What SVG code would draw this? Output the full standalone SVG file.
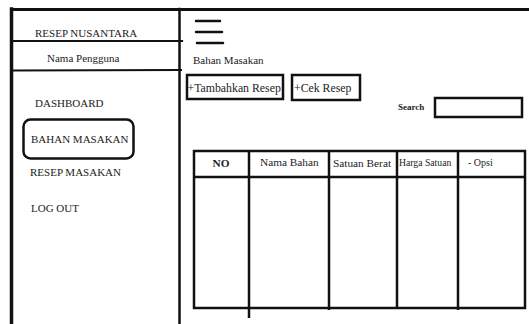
<svg xmlns="http://www.w3.org/2000/svg" width="529" height="324" viewBox="0 0 529 324">
  <style>
    .frame { stroke: #111; fill: none; stroke-linecap: square; }
    .box { stroke: #111; stroke-width: 2.5; fill: #fff; }
    .t { font-family: "Liberation Serif", "Times New Roman", serif; fill: #222; }
    .menu { font-size: 11px; }
    .hdr { font-size: 11.3px; }
  </style>
  <rect x="0" y="0" width="529" height="324" fill="#fff"/>

  <!-- outer frame and sidebar -->
  <g id="frame">
    <line class="frame" x1="11.5" y1="9.5" x2="529" y2="9.5" stroke-width="3"/>
    <line class="frame" x1="11.5" y1="9" x2="11.5" y2="324" stroke-width="3.5"/>
    <line class="frame" x1="179.5" y1="9" x2="179.5" y2="324" stroke-width="2.5"/>
    <line class="frame" x1="12" y1="41" x2="182" y2="41" stroke-width="2.2"/>
    <line class="frame" x1="12" y1="70.5" x2="181" y2="70" stroke-width="2"/>
  </g>

  <!-- sidebar content -->
  <g id="brand">
    <text class="t menu" x="35" y="37">RESEP NUSANTARA</text>
  </g>
  <g id="user">
    <text class="t menu" x="47" y="62">Nama Pengguna</text>
  </g>
  <g id="nav-dashboard">
    <text class="t menu" x="35" y="107">DASHBOARD</text>
  </g>
  <g id="nav-bahan">
    <rect x="23.5" y="119.5" width="110" height="39" rx="7" ry="7" fill="none" stroke="#111" stroke-width="2.5"/>
    <text class="t menu" x="31" y="143">BAHAN MASAKAN</text>
  </g>
  <g id="nav-resep">
    <text class="t menu" x="30" y="176">RESEP MASAKAN</text>
  </g>
  <g id="nav-logout">
    <text class="t menu" x="31" y="212">LOG OUT</text>
  </g>

  <!-- main area -->
  <g id="hamburger" stroke="#111" stroke-width="2.5" stroke-linecap="round">
    <line x1="196" y1="21" x2="220" y2="21"/>
    <line x1="196" y1="32" x2="222" y2="32"/>
    <line x1="197" y1="43" x2="223" y2="43"/>
  </g>
  <g id="page-title">
    <text class="t" x="193" y="64" font-size="11">Bahan Masakan</text>
  </g>
  <g id="btn-tambah">
    <rect class="box" x="187" y="75" width="96" height="24"/>
    <text class="t" x="187.5" y="92" font-size="11.8">+Tambahkan Resep</text>
  </g>
  <g id="btn-cek">
    <rect class="box" x="292" y="75" width="68" height="25"/>
    <text class="t" x="294" y="92" font-size="11.8">+Cek Resep</text>
  </g>
  <g id="search">
    <text class="t" x="398" y="110" font-size="9" font-weight="bold">Search</text>
    <rect class="box" x="435" y="98" width="87" height="19"/>
  </g>

  <!-- table -->
  <g id="table">
    <rect x="194" y="151" width="331" height="157" fill="none" stroke="#111" stroke-width="2.5"/>
    <g stroke="#111" stroke-width="2.5">
      <line x1="194" y1="177" x2="525" y2="177"/>
      <line x1="249" y1="151" x2="249" y2="318"/>
      <line x1="329" y1="151" x2="329" y2="310"/>
      <line x1="397" y1="151" x2="397" y2="309"/>
      <line x1="458" y1="151" x2="458" y2="310"/>
    </g>
    <text class="t hdr" x="221" y="167" text-anchor="middle" font-weight="bold" font-size="10.5">NO</text>
    <text class="t hdr" x="260" y="166">Nama Bahan</text>
    <text class="t hdr" x="333" y="167">Satuan Berat</text>
    <text class="t" x="399" y="166" font-size="9.7">Harga Satuan</text>
    <text class="t" x="468" y="166" font-size="10">-   Opsi</text>
  </g>
</svg>
